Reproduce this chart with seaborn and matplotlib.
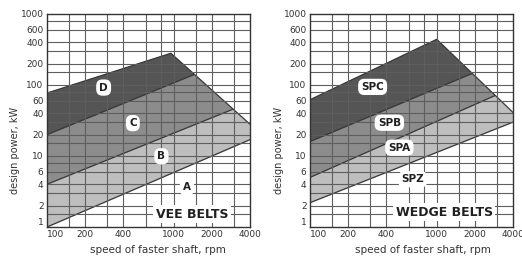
import numpy as np
import matplotlib
matplotlib.use("Agg")
import matplotlib.pyplot as plt
from matplotlib.patches import Polygon
from matplotlib.ticker import NullLocator, NullFormatter
import seaborn as sns

sns.set_style("white")
plt.rcParams['font.family'] = ['DejaVu Sans']

# outline of the selection area: speed (rpm) / design power (kW)
vee_env_x = [100, 100, 950, 4000, 4000]
vee_env_y = [1, 77, 280, 28, 1]
wedge_env_x = [100, 100, 1000, 4000, 4000]
wedge_env_y = [1, 62, 440, 41, 1]

# boundary lines between sections: power at 100 rpm and at 4000 rpm
vee_bound_lo = [1.0, 4.0, 20.0]
vee_bound_hi = [17.0, 57.0, 295.0]
wedge_bound_lo = [2.2, 5.0, 16.0]
wedge_bound_hi = [30.0, 92.0, 254.0]

# section labels and where they sit
vee_labels = ["A", "B", "C", "D"]
vee_lab_x = [1270, 800, 476, 280]
vee_lab_y = [3.6, 9.9, 29, 92]
wedge_labels = ["SPZ", "SPA", "SPB", "SPC"]
wedge_lab_x = [646, 507, 423, 312]
wedge_lab_y = [4.7, 13.1, 29.4, 94]

xticks = [100, 200, 400, 1000, 2000, 4000]
yticks = [1, 2, 4, 6, 10, 20, 40, 60, 100, 200, 400, 600, 1000]
xgrid = [150, 200, 300, 400, 600, 800, 1000, 1500, 2000, 3000]
ygrid = [1.5, 2, 3, 4, 6, 8, 10, 15, 20, 30, 40, 60, 80, 100, 150, 200, 300, 400, 600, 800]

shades = ["#bebebe", "#8c8c8c", "#555555"]
ink = "#3a3a3a"


def drawPanel(ax, env_x, env_y, b_lo, b_hi, labels, lab_x, lab_y, title, title_x, title_y, lab_size):
    ax.set_xscale("log")
    ax.set_yscale("log")
    ax.set_xlim(100, 4000)
    ax.set_ylim(1, 1000)

    env = Polygon(list(zip(env_x, env_y)), closed=True, fc="white", ec="none", zorder=1)
    ax.add_patch(env)
    for i in range(3):
        fill = ax.fill_between([100, 4000], [b_lo[i], b_hi[i]], 1000, color=shades[i], lw=0, zorder=1.1 + i * 0.1)
        fill.set_clip_path(env)
        sns.lineplot(x=[100, 4000], y=[b_lo[i], b_hi[i]], ax=ax, color=ink, lw=0.9, zorder=1.6)
        ax.lines[-1].set_clip_path(env)
    sns.lineplot(x=env_x[1:4], y=env_y[1:4], ax=ax, color=ink, lw=0.9, zorder=1.7, sort=False)

    for g in xgrid:
        ax.axvline(g, color="#5e5e5e", lw=0.8, zorder=2)
    for g in ygrid:
        ax.axhline(g, color="#5e5e5e", lw=0.8, zorder=2)

    for t, x, y in zip(labels, lab_x, lab_y):
        ax.text(x, y, t, ha="center", va="center", fontsize=lab_size, fontweight="bold", color="#202020", zorder=5,
                bbox=dict(boxstyle="round,pad=0.3,rounding_size=0.6", fc="white", ec="none"))
    ax.text(title_x, title_y, title, ha="center", va="center", fontsize=9, fontweight="bold", color="#202020", zorder=5,
            bbox=dict(boxstyle="square,pad=0.2", fc="white", ec="none"))

    ax.xaxis.set_minor_locator(NullLocator())
    ax.yaxis.set_minor_locator(NullLocator())
    ax.xaxis.set_minor_formatter(NullFormatter())
    ax.yaxis.set_minor_formatter(NullFormatter())
    ax.set_xticks(xticks)
    ax.set_xticklabels([str(v) for v in xticks])
    ax.set_yticks(yticks)
    ax.set_yticklabels([str(v) for v in yticks])
    ax.tick_params(length=0, labelsize=6.5, labelcolor="#333333", pad=2.5)
    # keep the corner labels apart, as in the printed chart
    ax.get_xticklabels()[0].set_ha("left")
    ax.get_yticklabels()[0].set_va("bottom")
    for s in ax.spines.values():
        s.set_visible(True)
        s.set_color("#333333")
        s.set_linewidth(1.0)
        s.set_zorder(6)
    ax.set_xlabel("")
    ax.set_ylabel("")


fig = plt.figure(figsize=(5.22, 2.59), dpi=100)
ax1 = fig.add_axes([0.0900, 0.1236, 0.3889, 0.8224])
ax2 = fig.add_axes([0.5939, 0.1236, 0.3889, 0.8224])

drawPanel(ax1, vee_env_x, vee_env_y, vee_bound_lo, vee_bound_hi, vee_labels, vee_lab_x, vee_lab_y,
          "VEE BELTS", 1400, 1.52, 7.5)
drawPanel(ax2, wedge_env_x, wedge_env_y, wedge_bound_lo, wedge_bound_hi, wedge_labels, wedge_lab_x, wedge_lab_y,
          "WEDGE BELTS", 1150, 1.61, 7.5)

for xl, xc, yc in [(15, 158, 150), (279, 423, 150)]:
    fig.text(xl / 522, 1 - yc / 259, "design power, kW", rotation=90, ha="center", va="center", fontsize=7, color="#333333")
    fig.text(xc / 522, 1 - 250 / 259, "speed of faster shaft, rpm", ha="center", va="center", fontsize=7.5, color="#333333")

fig.savefig("out.png", dpi=100)
